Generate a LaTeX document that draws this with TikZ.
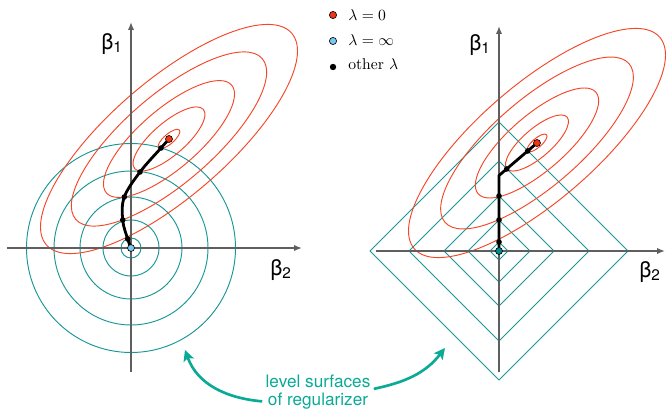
\documentclass[tikz,border=0pt]{standalone}
\usepackage{amsmath}
\usepackage{fontspec}
\usetikzlibrary{arrows,arrows.meta,calc}
\newfontfamily\helv{TeX Gyre Heros}
\definecolor{losscol}{RGB}{245,70,40}
\definecolor{regcol}{RGB}{25,150,150}
\definecolor{labcol}{RGB}{10,170,150}
\definecolor{axiscol}{RGB}{95,95,95}
\definecolor{reddot}{RGB}{235,55,20}
\definecolor{bluedot}{RGB}{120,200,240}
\definecolor{tealdot}{RGB}{0,140,140}

\begin{document}
\begin{tikzpicture}[x=0.64pt,y=0.64pt,
    axis/.style={draw=axiscol, line width=1pt, -{Latex[length=5pt,width=4pt]}},
    loss/.style={draw=losscol, line width=0.6pt},
    reg/.style={draw=regcol, line width=0.6pt},
    lampath/.style={draw=black, line width=1.8pt, line join=round},
    betalab/.style={font=\helv\fontsize{14}{16}\selectfont},
    lab/.style={text=labcol, inner sep=2pt, align=center, font=\helv\fontsize{11}{11.7}\selectfont},
    regarrow/.style={draw=labcol, line width=1.7pt, -{Stealth[length=7pt,width=7pt,inset=1.5pt]}}]
  \useasboundingbox (0,0) rectangle (667,414);

  % left: ridge
  \begin{scope}[shift={(131,166)}]
    \foreach \r in {10,28,51,77,104.5}
      \draw[reg] (0,0) circle [radius=\r];
    \foreach \s in {0.085,0.28,0.51,0.76,1}
      \draw[loss, shift={(38,109)}, rotate=40.75] (0,0) ellipse [x radius=162*\s, y radius=58.2*\s];
    \draw[axis] (-124,0) -- (171,0);
    \draw[axis] (0,-124) -- (0,226);
    \node[betalab] (b1L) at (-19,204) {β\textsubscript{1}};
    \node[betalab] (b2L) at (150,-22) {β\textsubscript{2}};
    \draw[lampath] plot[smooth, tension=0.6] coordinates {(0,0) (-3.3,9) (-8.3,28) (-6.7,51) (9,76) (30,100) (38,109)};
    \foreach \p in {(-3.3,9),(-8.3,28),(-6.7,51),(9,76),(30,100)}
      \fill \p circle [radius=2.8];
    \filldraw[fill=bluedot, draw=black, line width=0.4pt] (0,0) circle [radius=3.5];
    \filldraw[fill=reddot, draw=black, line width=0.4pt] (38,109) circle [radius=3.5];
  \end{scope}

  % right: lasso
  \begin{scope}[shift={(499,163)}]
    \foreach \r in {9,31,55,90,129}
      \draw[reg] (\r,0) -- (0,\r) -- (-\r,0) -- (0,-\r) -- cycle;
    \foreach \s in {0.078,0.245,0.48,0.75,1}
      \draw[loss, shift={(38,108)}, rotate=40.75] (0,0) ellipse [x radius=162*\s, y radius=58.2*\s];
    \draw[axis] (-123,0) -- (166,0);
    \draw[axis] (0,-121) -- (0,225);
    \node[betalab] (b1R) at (-19,206) {β\textsubscript{1}};
    \node[betalab] (b2R) at (151,-21) {β\textsubscript{2}};
    \draw[lampath] (0,0) -- (0,75.5) -- (38,108);
    \foreach \p in {(0,9),(0,31),(0,55),(7.7,82),(28.7,100)}
      \fill \p circle [radius=2.8];
    \filldraw[fill=tealdot, draw=black, line width=0.4pt] (0,0) circle [radius=3.5];
    \filldraw[fill=reddot, draw=black, line width=0.4pt] (38,108) circle [radius=3.5];
  \end{scope}

  % legend
  \filldraw[fill=reddot, draw=black, line width=0.4pt] (333,399) circle [radius=3.6];
  \filldraw[fill=bluedot, draw=black, line width=0.4pt] (333,373) circle [radius=3.6];
  \fill (333,347) circle [radius=3.2];
  \node[anchor=base west, inner sep=0] (leg1) at (348,393) {$\lambda=0$};
  \node[anchor=base west, inner sep=0] (leg2) at (348,368.5) {$\lambda=\infty$};
  \node[anchor=base west, inner sep=0] (leg3) at (348,344) {other $\lambda$};

  % label and arrows
  \node[lab] (lbl) at (318,22) {level surfaces\\of regularizer};
  \coordinate (hL) at (185,64);
  \coordinate (hR) at (445,66);
  \draw[regarrow] ([yshift=-6pt]lbl.west) to[out=175,in=-70] (hL);
  \draw[regarrow] ([yshift=2pt]lbl.east) to[out=12,in=-128] (hR);
\end{tikzpicture}
\end{document}
